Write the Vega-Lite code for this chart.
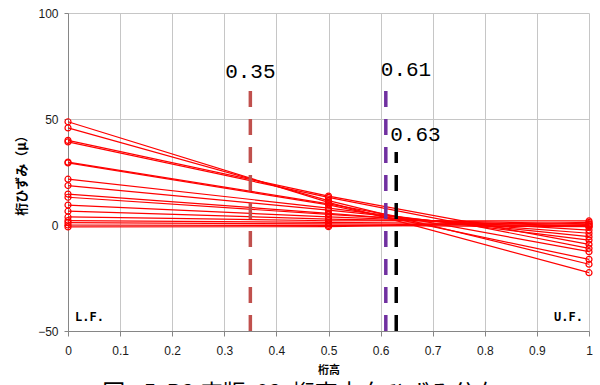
{
  "$schema": "https://vega.github.io/schema/vega-lite/v6.json",
  "width": 521,
  "height": 318,
  "autosize": "none",
  "padding": {"left": 68, "top": 13, "right": 11, "bottom": 54},
  "background": "white",
  "title": {"text": "図\u00a0\u00a0-5\u00a0\u00a0B2\u00a0床版\u00a0\u00a002\u00a0\u00a0桁高方向ひずみ分布", "orient": "bottom", "anchor": "middle", "dx": -28, "offset": 8, "font": "Noto Sans CJK JP", "fontSize": 23, "fontWeight": "normal", "color": "#000000"},
  "config": {
    "view": {"stroke": null},
    "axis": {"gridColor": "#c6c6c6", "gridWidth": 1, "domainColor": "#868686", "tickColor": "#868686", "labelFont": "Liberation Sans", "labelFontSize": 12, "labelColor": "#1a1a1a", "titleFont": "Noto Sans CJK JP", "titleFontWeight": "bold", "titleColor": "#000000"}
  },
  "datasets": {
    "lines": [
      {"id": 1, "pos": 0, "strain": 48.7}, {"id": 1, "pos": 0.5, "strain": 10.7}, {"id": 1, "pos": 1, "strain": -22.5},
      {"id": 2, "pos": 0, "strain": 45.8}, {"id": 2, "pos": 0.5, "strain": 11.5}, {"id": 2, "pos": 1, "strain": -18.5},
      {"id": 3, "pos": 0, "strain": 39.9}, {"id": 3, "pos": 0.5, "strain": 13.6}, {"id": 3, "pos": 1, "strain": -9.1},
      {"id": 4, "pos": 0, "strain": 39.2}, {"id": 4, "pos": 0.5, "strain": 13.0}, {"id": 4, "pos": 1, "strain": -11.0},
      {"id": 5, "pos": 0, "strain": 29.7}, {"id": 5, "pos": 0.5, "strain": 10.0}, {"id": 5, "pos": 1, "strain": -12.6},
      {"id": 6, "pos": 0, "strain": 29.3}, {"id": 6, "pos": 0.5, "strain": 9.5}, {"id": 6, "pos": 1, "strain": -16.2},
      {"id": 7, "pos": 0, "strain": 21.6}, {"id": 7, "pos": 0.5, "strain": 8.0}, {"id": 7, "pos": 1, "strain": -7.1},
      {"id": 8, "pos": 0, "strain": 18.6}, {"id": 8, "pos": 0.5, "strain": 7.0}, {"id": 8, "pos": 1, "strain": -5.5},
      {"id": 9, "pos": 0, "strain": 14.6}, {"id": 9, "pos": 0.5, "strain": 5.5}, {"id": 9, "pos": 1, "strain": -3.9},
      {"id": 10, "pos": 0, "strain": 13.1}, {"id": 10, "pos": 0.5, "strain": 5.0}, {"id": 10, "pos": 1, "strain": -2.4},
      {"id": 11, "pos": 0, "strain": 9.4}, {"id": 11, "pos": 0.5, "strain": 3.8}, {"id": 11, "pos": 1, "strain": -0.8},
      {"id": 12, "pos": 0, "strain": 6.5}, {"id": 12, "pos": 0.5, "strain": 2.8}, {"id": 12, "pos": 1, "strain": 0.6},
      {"id": 13, "pos": 0, "strain": 3.8}, {"id": 13, "pos": 0.5, "strain": 2.0}, {"id": 13, "pos": 1, "strain": 1.9},
      {"id": 14, "pos": 0, "strain": 2.1}, {"id": 14, "pos": 0.5, "strain": 1.2}, {"id": 14, "pos": 1, "strain": 0.3},
      {"id": 15, "pos": 0, "strain": 1.1}, {"id": 15, "pos": 0.5, "strain": 0.5}, {"id": 15, "pos": 1, "strain": -0.3},
      {"id": 16, "pos": 0, "strain": 0.0}, {"id": 16, "pos": 0.5, "strain": -0.2}, {"id": 16, "pos": 1, "strain": -0.8},
      {"id": 17, "pos": 0, "strain": -0.9}, {"id": 17, "pos": 0.5, "strain": -0.8}, {"id": 17, "pos": 1, "strain": 1.2}
    ],
    "marks": [
      {"name": "a", "x": 0.35, "bottom": -50, "top": 64.6},
      {"name": "b", "x": 0.61, "bottom": -50, "top": 66},
      {"name": "c", "x": 0.63, "bottom": -50, "top": 34.4}
    ]
  },
  "layer": [
    {
      "data": {"name": "lines"},
      "mark": {"type": "line", "color": "#ff0000", "strokeWidth": 1.2},
      "encoding": {
        "x": {"field": "pos", "type": "quantitative", "scale": {"domain": [0, 1], "nice": false},
              "axis": {"values": [0, 0.1, 0.2, 0.3, 0.4, 0.5, 0.6, 0.7, 0.8, 0.9, 1], "format": "~g", "title": "桁高", "titleFontSize": 11, "titlePadding": 8, "tickSize": 5, "labelPadding": 9, "labelFlush": false}},
        "y": {"field": "strain", "type": "quantitative", "scale": {"domain": [-50, 100], "nice": false},
              "axis": {"values": [-50, 0, 50, 100], "title": "桁ひずみ（μ）", "titleFontSize": 13, "titlePadding": 9, "tickSize": 4, "labelPadding": 6}},
        "detail": {"field": "id"}
      }
    },
    {
      "data": {"name": "lines"},
      "mark": {"type": "point", "shape": "circle", "filled": false, "color": "#ff0000", "size": 36, "strokeWidth": 1.2, "opacity": 1},
      "encoding": {
        "x": {"field": "pos", "type": "quantitative"},
        "y": {"field": "strain", "type": "quantitative"}
      }
    },
    {
      "data": {"name": "marks"},
      "mark": {"type": "rule", "strokeWidth": 3.5, "strokeDash": [16, 12]},
      "encoding": {
        "x": {"field": "x", "type": "quantitative"},
        "y": {"field": "bottom", "type": "quantitative"},
        "y2": {"field": "top"},
        "color": {"field": "name", "type": "nominal", "scale": {"domain": ["a", "b", "c"], "range": ["#c0504d", "#7030a0", "#000000"]}, "legend": null}
      }
    },
    {
      "data": {"values": [{"t": "0.35", "x": 0.35, "y": 72.2}]},
      "mark": {"type": "text", "font": "Liberation Mono", "fontSize": 21, "align": "center", "baseline": "middle", "color": "#000000"},
      "encoding": {"x": {"field": "x", "type": "quantitative"}, "y": {"field": "y", "type": "quantitative"}, "text": {"field": "t"}}
    },
    {
      "data": {"values": [{"t": "0.61", "x": 0.61, "y": 73.1}]},
      "mark": {"type": "text", "font": "Liberation Mono", "fontSize": 21, "align": "left", "baseline": "middle", "dx": -5, "color": "#000000"},
      "encoding": {"x": {"field": "x", "type": "quantitative"}, "y": {"field": "y", "type": "quantitative"}, "text": {"field": "t"}}
    },
    {
      "data": {"values": [{"t": "0.63", "x": 0.63, "y": 42.5}]},
      "mark": {"type": "text", "font": "Liberation Mono", "fontSize": 21, "align": "left", "baseline": "middle", "dx": -6, "color": "#000000"},
      "encoding": {"x": {"field": "x", "type": "quantitative"}, "y": {"field": "y", "type": "quantitative"}, "text": {"field": "t"}}
    },
    {
      "data": {"values": [{"t": "L.F.", "x": 0, "y": -43.4}]},
      "mark": {"type": "text", "font": "DejaVu Sans Mono", "fontWeight": "bold", "fontSize": 12, "align": "left", "baseline": "middle", "dx": 7, "color": "#000000"},
      "encoding": {"x": {"field": "x", "type": "quantitative"}, "y": {"field": "y", "type": "quantitative"}, "text": {"field": "t"}}
    },
    {
      "data": {"values": [{"t": "U.F.", "x": 1, "y": -43.4}]},
      "mark": {"type": "text", "font": "DejaVu Sans Mono", "fontWeight": "bold", "fontSize": 12, "align": "right", "baseline": "middle", "dx": -6, "color": "#000000"},
      "encoding": {"x": {"field": "x", "type": "quantitative"}, "y": {"field": "y", "type": "quantitative"}, "text": {"field": "t"}}
    }
  ]
}
